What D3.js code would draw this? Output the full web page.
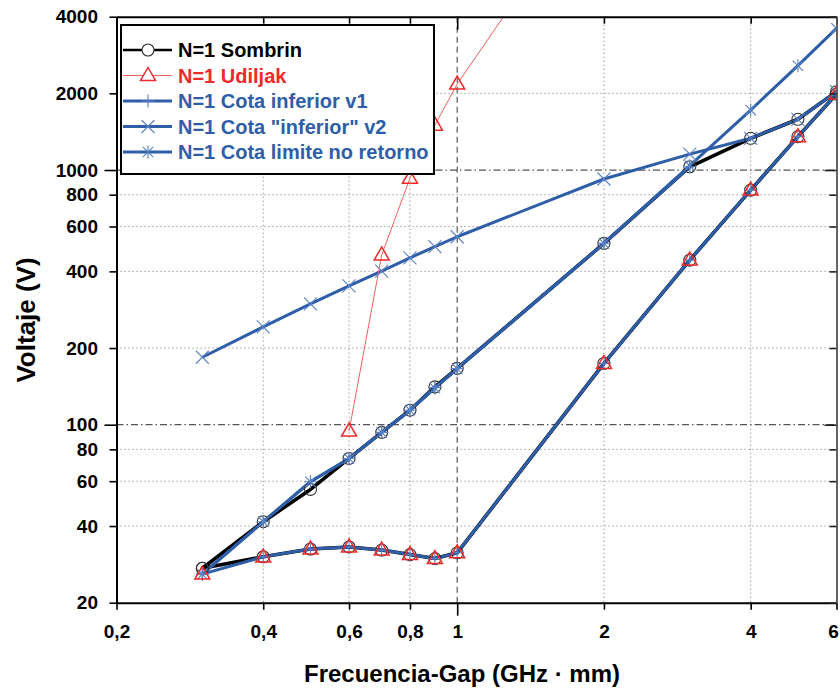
<!DOCTYPE html>
<html><head><meta charset="utf-8">
<script src="https://cdn.jsdelivr.net/npm/d3@7"></script>
<style>
body{margin:0;background:#fff}
svg{display:block}
text{font-family:"Liberation Sans",Arial,Helvetica,sans-serif;font-weight:bold}
</style>
</head><body>
<svg id="c" width="840" height="697"></svg>
<script>
// ---------------- DATA ----------------
const freq = [0.3,0.4,0.5,0.6,0.7,0.8,0.9,1,2,3,4,5,6];
const sombrinLower = [27.3,30.3,32.5,33.1,32.2,30.9,29.8,31.4,174,443,834,1352,1988];
const sombrinUpper = [27.3,41.6,55.7,73.7,93.3,114,140.8,166.4,515,1030,1332,1582,2030];
const udiljakLower = [25.9,30.2,32.5,33.1,32.2,30.9,29.8,31.4,174,443,834,1352,1988];
const udiljakUpperFreq = [0.6,0.7,0.8,0.9,1,2];
const udiljakUpper = [94.4,464,928,1500,2175,15000];
const cotaV1Lower = [25.9,30.3,32.5,33.1,32.2,30.9,29.8,31.4,174,443,834,1352,1988];
const cotaV1UpperFreq = [0.3,0.4,0.5,0.6,0.7,0.8,0.9,1,2,3];
const cotaV1Upper = [25.9,41.6,59.7,73.7,93.3,114,140,166,515,1030];
const cotaV2 = [184,242,298,351,401,452,500,547,922,1155,1332,1582,2030];
const cotaLimite = [25.9,41.6,59.7,73.7,93.3,114,139,166,515,1040,1720,2568,3600];
const xTicks = [0.2,0.4,0.6,0.8,1,2,4,6];
const yTicks = [20,40,60,80,100,200,400,600,800,1000,2000,4000];
const legendLabels = ["N=1 Sombrin","N=1 Udiljak","N=1 Cota inferior v1","N=1 Cota \"inferior\" v2","N=1 Cota limite no retorno"];

// ---------------- STYLE ----------------
const BLUE = "#2f5ea8", BLUE_M = "#5a82c6", RED = "#ee2a2a", RED_L = "#f26060";
const svg = d3.select("#c");
const L = 116.5, R = 836.5, T = 16.7, B = 602.7;
const x = d3.scaleLog().domain([0.2,6]).range([L,R]);
const y = d3.scaleLog().domain([20,4000]).range([B,T]);

svg.append("defs").append("clipPath").attr("id","clip")
  .append("rect").attr("x",L).attr("y",T).attr("width",R-L).attr("height",B-T);

// grid
const grid = svg.append("g");
xTicks.filter(d=>d>0.2 && d<6).forEach(d=>{
  const dec = d===1;
  grid.append("line").attr("x1",x(d)).attr("x2",x(d)).attr("y1",T).attr("y2",B)
    .attr("stroke",dec?"#666":"#888").attr("stroke-width",dec?1.3:1)
    .attr("stroke-dasharray",dec?"6,4":"1.2,2.8");
});
yTicks.filter(d=>d>20 && d<4000).forEach(d=>{
  const dec = (d===100||d===1000);
  grid.append("line").attr("x1",L).attr("x2",R).attr("y1",y(d)).attr("y2",y(d))
    .attr("stroke",dec?"#555":"#888").attr("stroke-width",dec?1.3:1)
    .attr("stroke-dasharray",dec?"7,3,1.5,3":"1.2,2.8");
});

// lines
const plot = svg.append("g").attr("clip-path","url(#clip)");
const lineOf = (xs,ys)=>d3.line().x((d,i)=>x(xs[i])).y(d=>y(d))(ys);
function path(xs,ys,color,w){
  plot.append("path").attr("d",lineOf(xs,ys)).attr("fill","none")
    .attr("stroke",color).attr("stroke-width",w).attr("stroke-linejoin","round");
}
path(freq,udiljakLower,RED_L,1);
path(freq,sombrinLower,"#000",3.6);
path(freq,sombrinUpper,"#000",3.6);
path(freq,cotaV2,BLUE,3);
path(freq,cotaLimite,BLUE,3);
path(freq,cotaV1Lower,BLUE,3);
path(cotaV1UpperFreq,cotaV1Upper,BLUE,3);
path(udiljakUpperFreq,udiljakUpper,RED_L,1);

// markers
function marker(g,type,cx,cy,legend){
  const s = 6.5;
  if(type==="circle"){
    g.append("circle").attr("cx",cx).attr("cy",cy).attr("r",6)
      .attr("fill",legend?"#fff":"none").attr("stroke","#333").attr("stroke-width",1.1);
  } else if(type==="tri"){
    g.append("path").attr("d",`M${cx},${cy-8}L${cx+7.5},${cy+5}L${cx-7.5},${cy+5}Z`)
      .attr("fill",legend?"#fff":"none").attr("stroke",RED).attr("stroke-width",1.5);
  } else if(type==="plus"){
    g.append("path").attr("d",`M${cx-s},${cy}H${cx+s}M${cx},${cy-s}V${cy+s}`)
      .attr("stroke",BLUE_M).attr("stroke-width",1.1);
  } else if(type==="cross"){
    g.append("path").attr("d",`M${cx-s},${cy-s}L${cx+s},${cy+s}M${cx-s},${cy+s}L${cx+s},${cy-s}`)
      .attr("stroke",BLUE_M).attr("stroke-width",1.1);
  } else if(type==="star"){
    const a = s*0.8;
    g.append("path").attr("d",`M${cx},${cy-s}V${cy+s}M${cx-a},${cy-a}L${cx+a},${cy+a}M${cx-a},${cy+a}L${cx+a},${cy-a}`)
      .attr("stroke",BLUE_M).attr("stroke-width",1.1);
  }
}
const mk = svg.append("g").attr("clip-path","url(#clip)");
freq.forEach((f,i)=>{ marker(mk,"circle",x(f),y(sombrinLower[i])); marker(mk,"circle",x(f),y(sombrinUpper[i])); });
freq.forEach((f,i)=>{ marker(mk,"cross",x(f),y(cotaV2[i])); marker(mk,"star",x(f),y(cotaLimite[i])); marker(mk,"plus",x(f),y(cotaV1Lower[i])); });
cotaV1UpperFreq.forEach((f,i)=>marker(mk,"plus",x(f),y(cotaV1Upper[i])));
freq.forEach((f,i)=>marker(mk,"tri",x(f),y(udiljakLower[i])));
udiljakUpperFreq.forEach((f,i)=>marker(mk,"tri",x(f),y(udiljakUpper[i])));

// axes
const isDec = d => Math.abs(Math.log10(d)-Math.round(Math.log10(d)))<1e-9;
const fmtX = d => String(d).replace(".",",");
const gl = svg.append("g").attr("transform",`translate(${L},0)`)
  .call(d3.axisLeft(y).tickValues(yTicks).tickFormat(d3.format("d")).tickSize(7).tickSizeOuter(0).tickPadding(11.5));
gl.selectAll(".tick line").attr("x2",d=>isDec(d)?-12:-7);
const gb = svg.append("g").attr("transform",`translate(0,${B})`)
  .call(d3.axisBottom(x).tickValues(xTicks).tickFormat(fmtX).tickSize(7).tickSizeOuter(0).tickPadding(15));
gb.selectAll(".tick line").attr("y2",d=>isDec(d)?13:7);
gb.selectAll(".tick text").attr("dx",d=>d===6?-3.5:0);
const gt = svg.append("g").attr("transform",`translate(0,${T})`)
  .call(d3.axisTop(x).tickValues(xTicks).tickFormat("").tickSize(-7).tickSizeOuter(0));
gt.selectAll(".tick line").attr("y2",d=>isDec(d)?13:7);
const gr = svg.append("g").attr("transform",`translate(${R},0)`)
  .call(d3.axisRight(y).tickValues(yTicks).tickFormat("").tickSize(-7).tickSizeOuter(0));
gr.selectAll(".tick line").attr("x2",d=>isDec(d)?-12:-7);
[gl,gb,gt].forEach(g=>{
  g.select(".domain").attr("stroke","#000").attr("stroke-width",2);
  g.selectAll(".tick line").attr("stroke","#000").attr("stroke-width",1.6);
  g.selectAll(".tick text").attr("fill","#000").style("font-size","19px")
   .style("font-family","'Liberation Sans',Arial,sans-serif").style("font-weight","bold");
});
gr.select(".domain").attr("stroke","#555").attr("stroke-width",1.8);
gr.selectAll(".tick line").attr("stroke","#222").attr("stroke-width",1.6);

// axis titles
svg.append("text").attr("transform","translate(35,320) rotate(-90)").attr("text-anchor","middle")
  .style("font-size","26px").attr("fill","#000").text("Voltaje (V)");
svg.append("text").attr("x",462).attr("y",682).attr("text-anchor","middle")
  .style("font-size","24px").attr("fill","#000").text("Frecuencia-Gap (GHz \u00b7 mm)");

// legend
const lg = svg.append("g");
lg.append("rect").attr("x",121).attr("y",25).attr("width",313).attr("height",149)
  .attr("fill","#fff").attr("stroke","#000").attr("stroke-width",2);
const legendStyle = [
  {c:"#000", w:2.6, lc:"#000", m:"circle"},
  {c:RED, w:1, lc:RED_L, m:"tri"},
  {c:BLUE, w:3, lc:BLUE, m:"plus"},
  {c:BLUE, w:3, lc:BLUE, m:"cross"},
  {c:BLUE, w:3, lc:BLUE, m:"star"}
];
legendLabels.forEach((t,i)=>{
  const cy = 50 + i*25.5, st = legendStyle[i];
  lg.append("line").attr("x1",123).attr("x2",172).attr("y1",cy).attr("y2",cy)
    .attr("stroke",st.lc).attr("stroke-width",st.w);
  marker(lg,st.m,148,cy,true);
  lg.append("text").attr("x",178).attr("y",cy+7).style("font-size","20px").attr("fill",st.c).text(t);
});
</script>
</body></html>
